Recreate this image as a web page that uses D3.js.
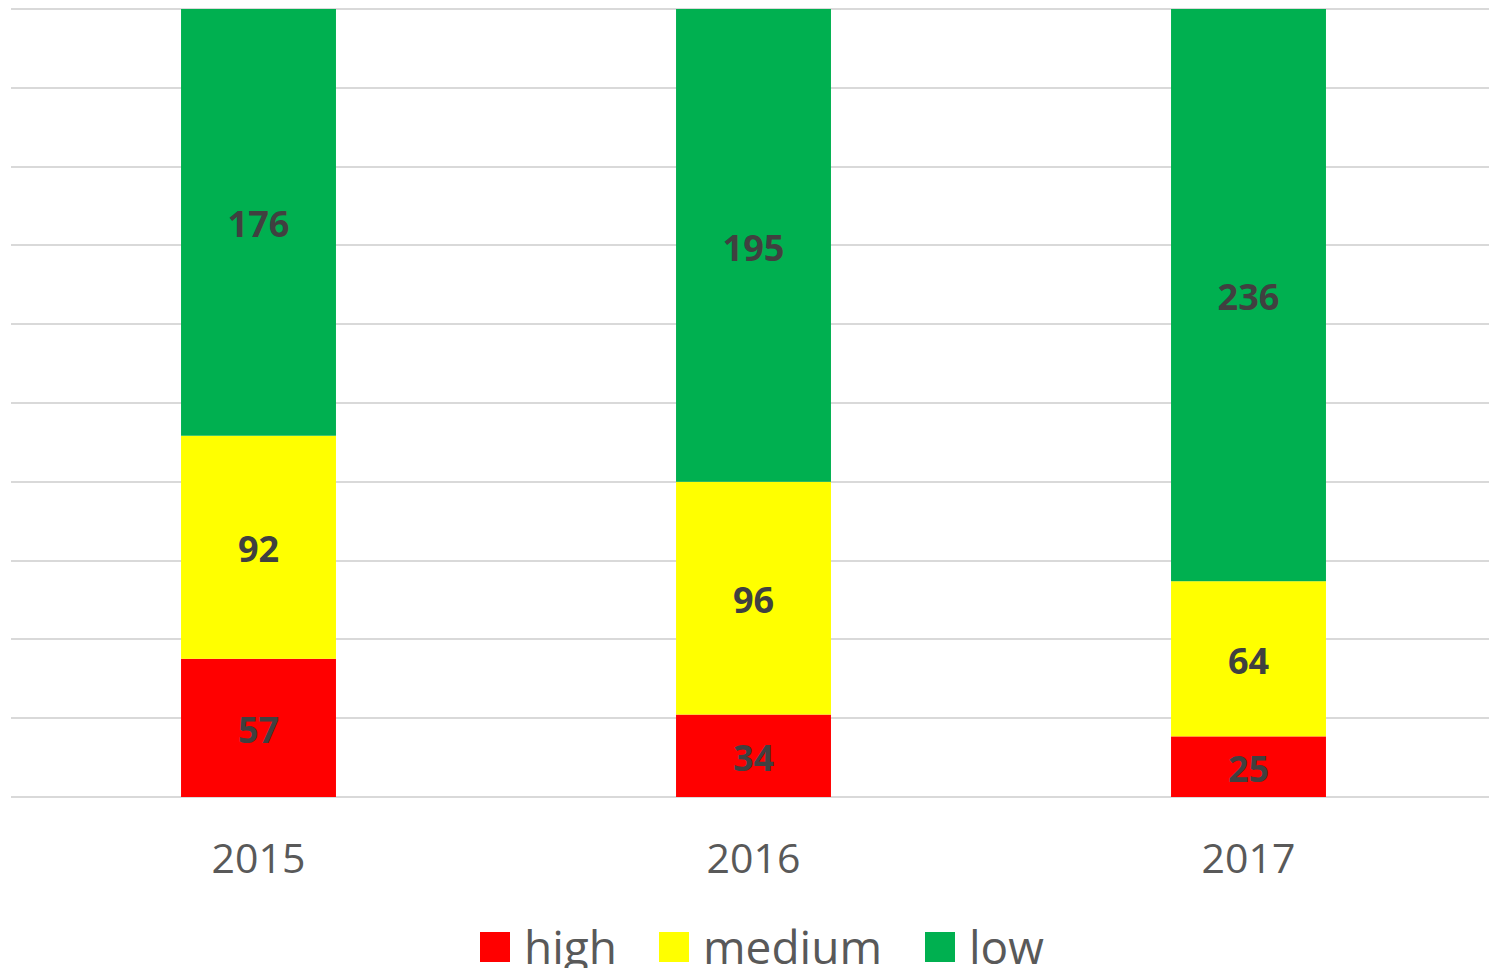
<!DOCTYPE html>
<html>
<head>
<meta charset="utf-8">
<script src="https://cdn.jsdelivr.net/npm/d3@7"></script>
<style>
  body { margin: 0; background: #fff; }
  svg { display: block; font-family: "Open Sans", sans-serif; }
</style>
</head>
<body>
<div class="chart"></div>
<script>
// chart data
var years = ["2015", "2016", "2017"];
var high = [57, 34, 25];
var medium = [92, 96, 64];
var low = [176, 195, 236];
var seriesNames = ["high", "medium", "low"];
var colors = { high: "#ff0000", medium: "#ffff00", low: "#00b050" };

var svgWidth = 1489,
    svgHeight = 968;

var plot = { left: 11, right: 1489, top: 9, bottom: 797 };

var svg = d3.select(".chart")
    .append("svg")
    .attr("width", svgWidth)
    .attr("height", svgHeight);

// build rows for the stack
var rows = years.map(function(y, i) {
    return { year: y, high: high[i], medium: medium[i], low: low[i] };
});

var stack = d3.stack()
    .keys(seriesNames)
    .offset(d3.stackOffsetExpand);
var layers = stack(rows);

var x = d3.scaleBand()
    .domain(years)
    .range([plot.left, 1496])
    .paddingInner(0.687)
    .paddingOuter(0.3435);

var y = d3.scaleLinear()
    .domain([0, 1])
    .range([plot.bottom, plot.top]);

// gridlines
svg.append("g")
    .attr("class", "grid")
    .selectAll("line")
    .data(y.ticks(10))
    .enter().append("line")
    .attr("x1", plot.left)
    .attr("x2", plot.right)
    .attr("y1", function(d) { return Math.round(y(d)); })
    .attr("y2", function(d) { return Math.round(y(d)); })
    .attr("stroke", "#d9d9d9")
    .attr("stroke-width", 2);

// bars
var layer = svg.append("g").selectAll("g")
    .data(layers)
    .enter().append("g")
    .attr("fill", function(d) { return colors[d.key]; });

layer.selectAll("rect")
    .data(function(d) { return d; })
    .enter().append("rect")
    .attr("x", function(d) { return x(d.data.year); })
    .attr("width", x.bandwidth())
    .attr("y", function(d) { return y(d[1]); })
    .attr("height", function(d) { return y(d[0]) - y(d[1]); });

// data labels
layers.forEach(function(l) {
    svg.append("g").selectAll("text")
        .data(l)
        .enter().append("text")
        .attr("x", function(d) { return x(d.data.year) + x.bandwidth() / 2; })
        .attr("y", function(d) { return (y(d[0]) + y(d[1])) / 2; })
        .attr("dy", "0.42em")
        .attr("text-anchor", "middle")
        .attr("font-size", 36)
        .attr("font-weight", "bold")
        .attr("fill", "#404040")
        .text(function(d) { return d.data[l.key]; });
});

// x axis labels
var xAxis = d3.axisBottom(x).tickSize(0).tickPadding(0);
var gx = svg.append("g")
    .attr("transform", "translate(0," + plot.bottom + ")")
    .call(xAxis);
gx.select(".domain").remove();
gx.selectAll("text")
    .attr("y", 76)
    .attr("dy", 0)
    .attr("font-family", "'Open Sans', sans-serif")
    .attr("font-size", 41)
    .attr("fill", "#595959");

// legend
var legendX = [480, 659, 925];
var legend = svg.append("g").selectAll("g")
    .data(seriesNames)
    .enter().append("g")
    .attr("transform", function(d, i) { return "translate(" + legendX[i] + ",932)"; });

legend.append("rect")
    .attr("width", 30)
    .attr("height", 30)
    .attr("fill", function(d) { return colors[d]; });

legend.append("text")
    .attr("x", 44)
    .attr("y", 32)
    .attr("font-size", 46)
    .attr("fill", "#595959")
    .text(function(d) { return d; });
</script>
</body>
</html>
